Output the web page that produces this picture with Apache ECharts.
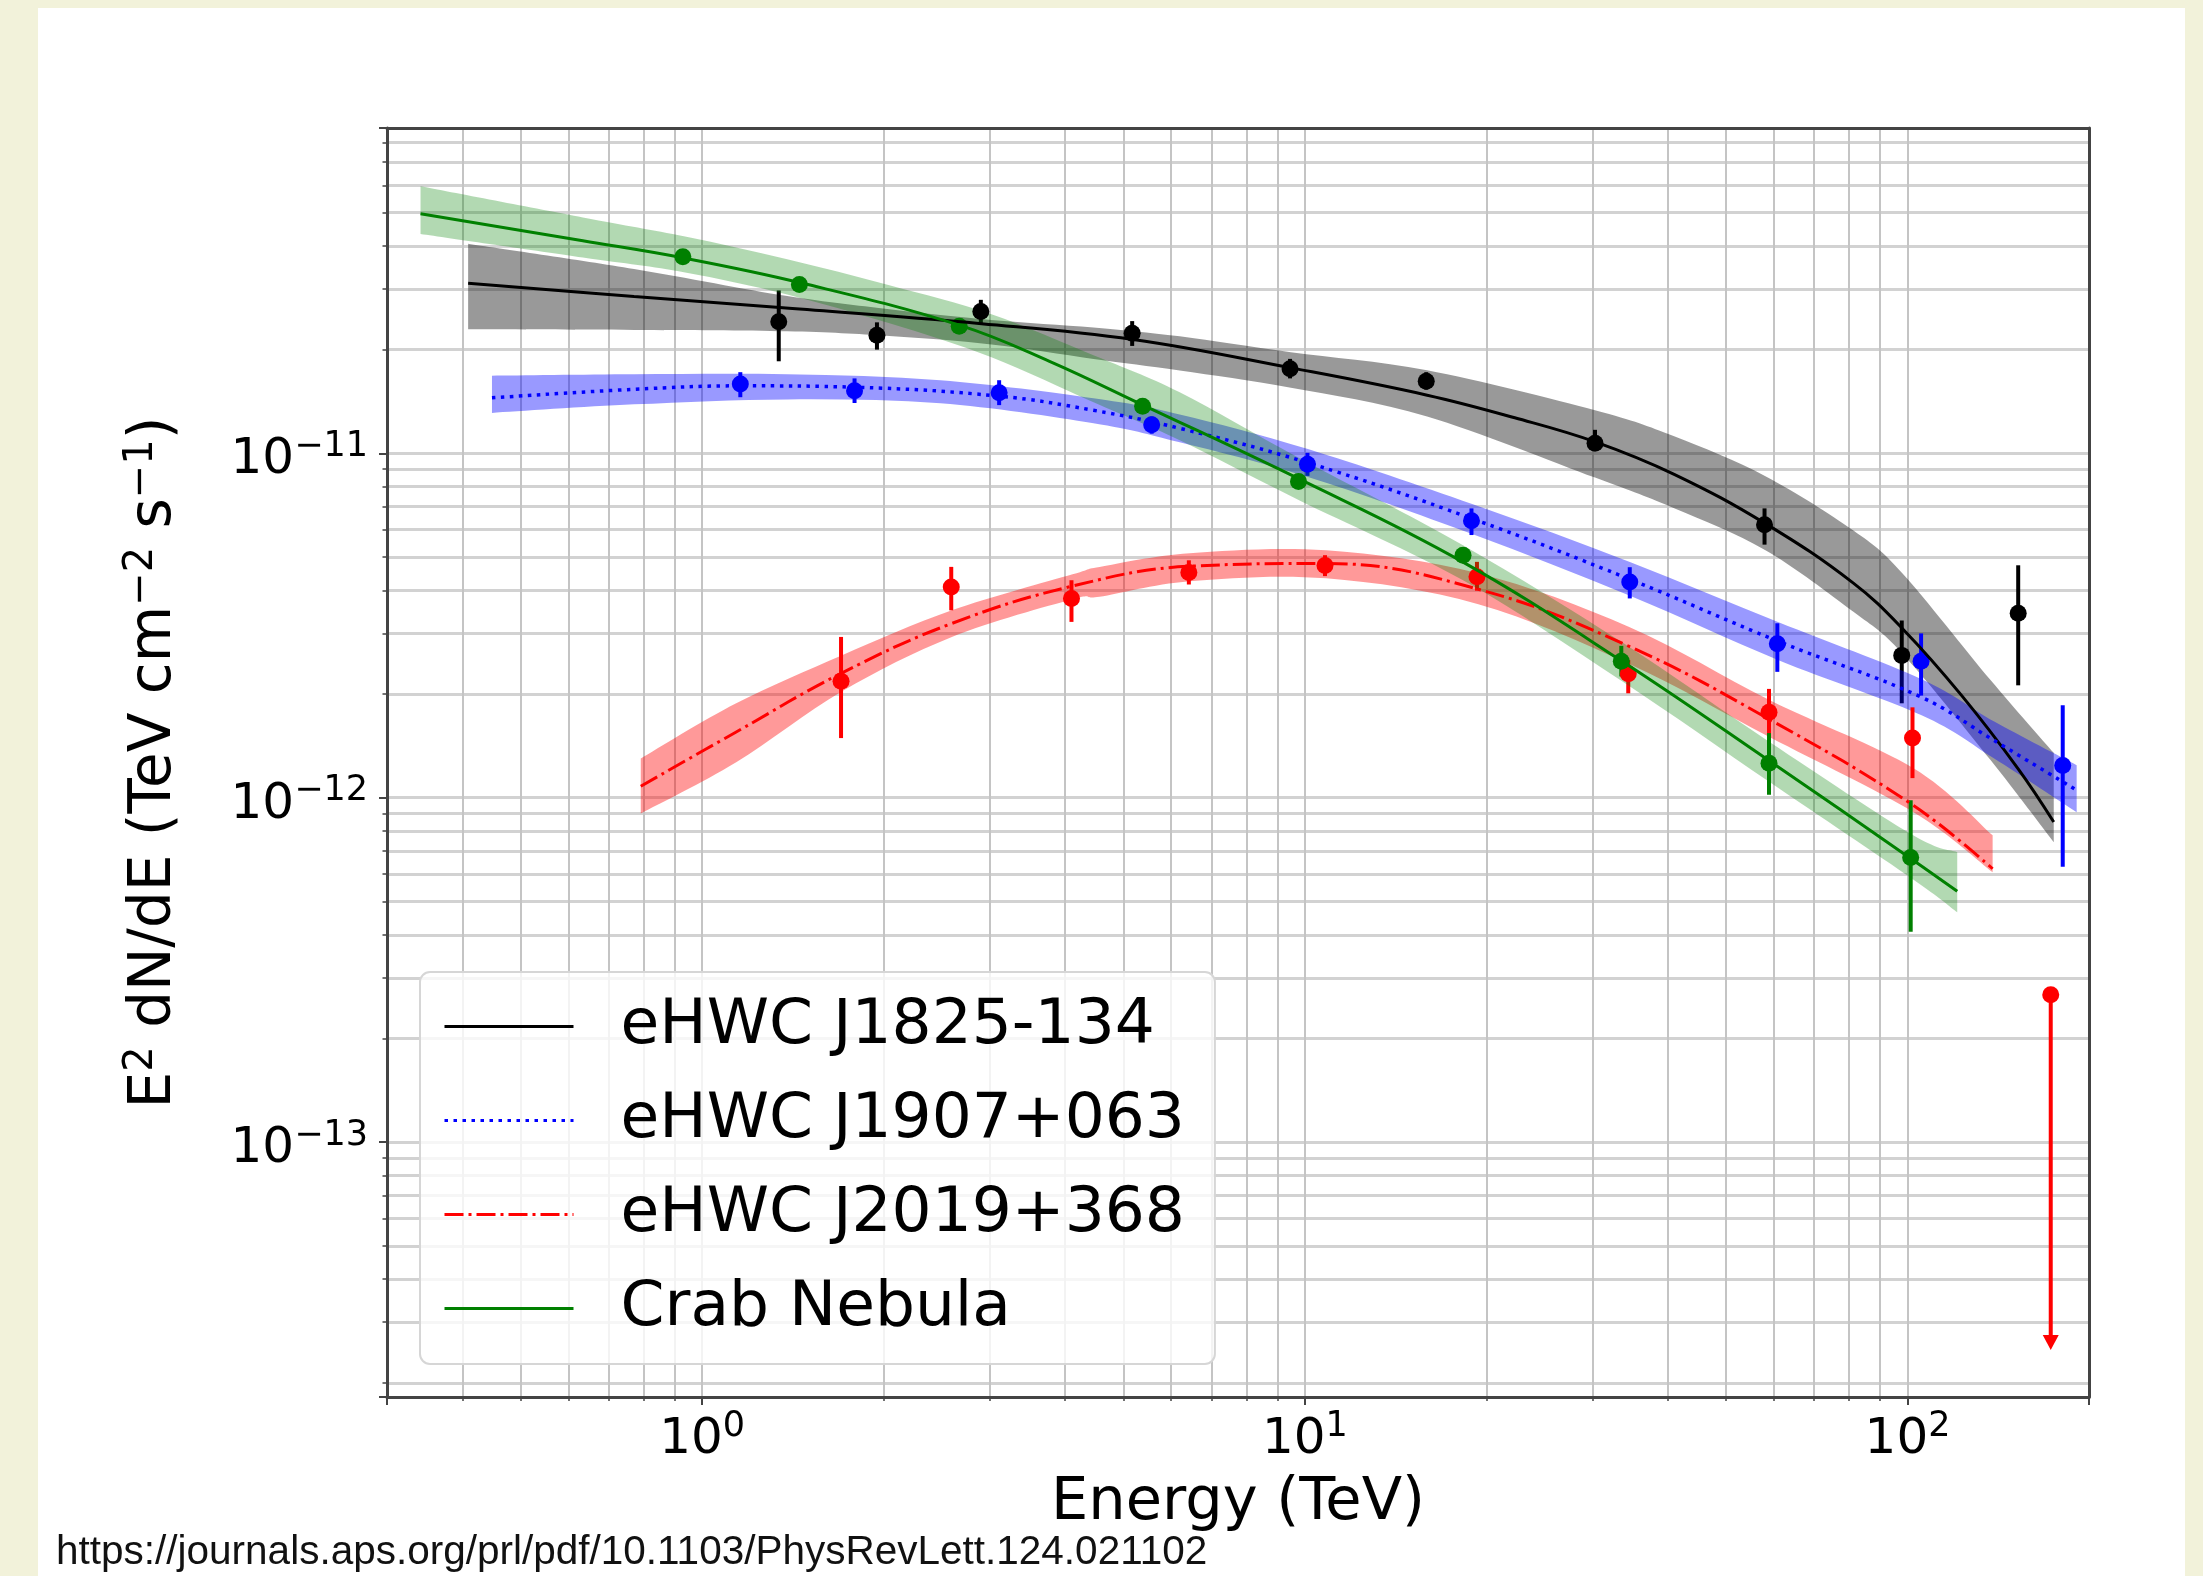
<!DOCTYPE html>
<html>
<head>
<meta charset="utf-8">
<title>eHWC spectra</title>
<script src="https://cdn.jsdelivr.net/npm/echarts@6/dist/echarts.min.js"></script>
<style>
  html, body { margin: 0; padding: 0; background: #f2f2da; }
  #sheet { position: absolute; left: 38px; top: 8px; width: 2147px; height: 1568px; background: #ffffff; }
  #main { position: absolute; left: 0; top: 0; width: 2203px; height: 1576px; }
</style>
</head>
<body>
<div id="sheet"></div>
<div id="main"></div>
<script>
// energy in TeV, E^2 dN/dE in TeV cm^-2 s^-1
var xMin = 0.3, xMax = 200;
var yMin = 1.82e-14, yMax = 8.8e-11;

// eHWC J1825-134 (black)
var j1825FitE = [0.409, 0.771, 1.345, 2.908, 5.19, 9.49, 15.96, 22.3, 30.4, 41.0, 58.1, 81.2, 98.1, 122.9, 152.9, 174.8];
var j1825FitF = [3.115e-11, 2.851e-11, 2.650e-11, 2.379e-11, 2.140e-11, 1.770e-11, 1.475e-11, 1.268e-11, 1.078e-11, 8.69e-12, 6.25e-12, 4.205e-12, 3.095e-12, 1.982e-12, 1.207e-12, 8.50e-13];
var j1825BandE = [0.409, 0.771, 1.384, 2.045, 3.02, 4.46, 6.20, 9.48, 15.95, 30.3, 41.0, 58.1, 81.2, 98.1, 137.4, 174.8];
var j1825BandLo = [2.29e-11, 2.28e-11, 2.26e-11, 2.19e-11, 2.07e-11, 1.88e-11, 1.74e-11, 1.55e-11, 1.28e-11, 8.50e-12, 6.92e-12, 5.23e-12, 3.47e-12, 2.62e-12, 1.285e-12, 7.43e-13];
var j1825BandHi = [4.06e-11, 3.43e-11, 2.86e-11, 2.62e-11, 2.44e-11, 2.32e-11, 2.186e-11, 1.964e-11, 1.741e-11, 1.333e-11, 1.12e-11, 8.58e-12, 5.976e-12, 4.48e-12, 2.194e-12, 1.35e-12];
var j1825E = [1.34, 1.95, 2.90, 5.17, 9.45, 15.9, 30.3, 57.9, 97.8, 152.6];
var j1825F = [2.41e-11, 2.20e-11, 2.58e-11, 2.23e-11, 1.76e-11, 1.62e-11, 1.07e-11, 6.20e-12, 2.59e-12, 3.43e-12];
var j1825Lo = [1.85e-11, 2.00e-11, 2.37e-11, 2.05e-11, 1.65e-11, 1.53e-11, 1.02e-11, 5.43e-12, 1.88e-12, 2.12e-12];
var j1825Hi = [2.97e-11, 2.40e-11, 2.79e-11, 2.42e-11, 1.88e-11, 1.72e-11, 1.17e-11, 6.92e-12, 3.27e-12, 4.73e-12];

// eHWC J1907+063 (blue)
var j1907FitE = [0.448, 0.771, 1.161, 1.80, 3.126, 4.46, 6.20, 10.15, 19.0, 34.7, 61.1, 105.5, 139.0, 190.8];
var j1907FitF = [1.449e-11, 1.534e-11, 1.570e-11, 1.555e-11, 1.464e-11, 1.333e-11, 1.182e-11, 9.37e-12, 6.45e-12, 4.30e-12, 2.842e-12, 1.957e-12, 1.468e-12, 1.051e-12];
var j1907BandE = [0.448, 0.771, 1.384, 2.485, 4.46, 6.20, 10.15, 19.0, 34.7, 61.1, 105.5, 139.0, 190.8];
var j1907BandLo = [1.31e-11, 1.387e-11, 1.434e-11, 1.397e-11, 1.222e-11, 1.076e-11, 8.52e-12, 5.82e-12, 3.85e-12, 2.507e-12, 1.735e-12, 1.302e-12, 9.08e-13];
var j1907BandHi = [1.68e-11, 1.696e-11, 1.696e-11, 1.63e-11, 1.445e-11, 1.297e-11, 1.027e-11, 7.11e-12, 4.83e-12, 3.23e-12, 2.208e-12, 1.667e-12, 1.243e-12];
var j1907E = [1.157, 1.79, 3.11, 5.57, 10.1, 18.9, 34.6, 60.8, 105.3, 180.9];
var j1907F = [1.59e-11, 1.52e-11, 1.50e-11, 1.21e-11, 9.29e-12, 6.37e-12, 4.23e-12, 2.80e-12, 2.49e-12, 1.24e-12];
var j1907Lo = [1.455e-11, 1.40e-11, 1.38e-11, 1.14e-11, 8.60e-12, 5.79e-12, 3.79e-12, 2.32e-12, 1.98e-12, 6.30e-13];
var j1907Hi = [1.72e-11, 1.65e-11, 1.63e-11, 1.28e-11, 1.003e-11, 6.92e-12, 4.67e-12, 3.21e-12, 3.00e-12, 1.855e-12];

// eHWC J2019+368 (red)
var j2019FitE = [0.791, 1.139, 1.707, 2.596, 4.117, 6.44, 10.85, 19.4, 34.6, 59.1, 102.3, 138.4];
var j2019FitF = [1.08e-12, 1.552e-12, 2.305e-12, 3.206e-12, 4.117e-12, 4.70e-12, 4.787e-12, 4.03e-12, 2.746e-12, 1.685e-12, 9.49e-13, 6.22e-13];
var j2019BandE = [0.791, 1.139, 1.707, 2.596, 4.117, 4.565, 6.44, 10.85, 19.4, 34.6, 59.1, 102.3, 138.4];
var j2019BandLo = [9.0e-13, 1.268e-12, 2.038e-12, 2.93e-12, 3.77e-12, 3.83e-12, 4.25e-12, 4.335e-12, 3.645e-12, 2.44e-12, 1.498e-12, 9.08e-13, 6.08e-13];
var j2019BandHi = [1.30e-12, 1.88e-12, 2.593e-12, 3.50e-12, 4.454e-12, 4.68e-12, 5.13e-12, 5.23e-12, 4.484e-12, 3.126e-12, 1.919e-12, 1.218e-12, 7.78e-13];
var j2019E = [1.70, 2.59, 4.10, 6.42, 10.8, 19.3, 34.4, 58.9, 101.9];
var j2019F = [2.18e-12, 4.09e-12, 3.79e-12, 4.51e-12, 4.72e-12, 4.38e-12, 2.29e-12, 1.77e-12, 1.49e-12];
var j2019Lo = [1.49e-12, 3.50e-12, 3.24e-12, 4.16e-12, 4.40e-12, 3.99e-12, 2.01e-12, 1.45e-12, 1.14e-12];
var j2019Hi = [2.93e-12, 4.68e-12, 4.28e-12, 4.89e-12, 5.06e-12, 4.84e-12, 2.51e-12, 2.07e-12, 1.83e-12];
// upper limit in the last bin: [energy, flux, arrow end]
var j2019UL = [172.8, 2.68e-13, 2.49e-14];

// Crab Nebula (green)
var crabFitE = [0.341, 0.634, 0.932, 1.457, 2.679, 3.77, 5.40, 9.80, 18.3, 33.6, 59.1, 101.6, 120.9];
var crabFitF = [4.96e-11, 4.14e-11, 3.69e-11, 3.126e-11, 2.352e-11, 1.850e-11, 1.378e-11, 8.41e-12, 4.83e-12, 2.49e-12, 1.276e-12, 6.63e-13, 5.35e-13];
var crabBandE = [0.341, 0.634, 0.937, 1.384, 2.045, 3.02, 4.46, 6.20, 9.80, 18.3, 33.6, 59.1, 101.5, 120.9];
var crabBandLo = [4.33e-11, 3.70e-11, 3.352e-11, 2.893e-11, 2.384e-11, 1.90e-11, 1.406e-11, 1.091e-11, 7.30e-12, 4.28e-12, 2.18e-12, 1.109e-12, 5.84e-13, 4.65e-13];
var crabBandHi = [5.96e-11, 4.84e-11, 4.26e-11, 3.657e-11, 3.074e-11, 2.533e-11, 1.926e-11, 1.504e-11, 9.67e-12, 5.41e-12, 2.827e-12, 1.449e-12, 7.83e-13, 6.95e-13];
var crabE = [0.929, 1.45, 2.67, 5.38, 9.76, 18.3, 33.5, 58.9, 101.2];
var crabF = [3.72e-11, 3.09e-11, 2.34e-11, 1.37e-11, 8.28e-12, 5.06e-12, 2.49e-12, 1.26e-12, 6.71e-13];
var crabLo = [3.62e-11, 3.01e-11, 2.27e-11, 1.33e-11, 8.00e-12, 4.85e-12, 2.25e-12, 1.02e-12, 4.08e-13];
var crabHi = [3.82e-11, 3.17e-11, 2.41e-11, 1.41e-11, 8.56e-12, 5.28e-12, 2.76e-12, 1.54e-12, 9.83e-13];

var legendNames = ['eHWC J1825-134', 'eHWC J1907+063', 'eHWC J2019+368', 'Crab Nebula'];

var FONT = 'DejaVu Sans';
var myChart = echarts.init(document.getElementById('main'));

function zip(a, b, c) {
  return a.map(function (v, i) { return c ? [v, b[i], c[i]] : [v, b[i]]; });
}

// bezier segments through pixel points (catmull-rom), for the band edges
function curveThrough(pts) {
  var s = '';
  for (var i = 0; i < pts.length - 1; i++) {
    var p0 = pts[i - 1] || pts[i], p1 = pts[i], p2 = pts[i + 1], p3 = pts[i + 2] || pts[i + 1];
    s += ' C' + (p1[0] + (p2[0] - p0[0]) / 6) + ' ' + (p1[1] + (p2[1] - p0[1]) / 6) +
         ' ' + (p2[0] - (p3[0] - p1[0]) / 6) + ' ' + (p2[1] - (p3[1] - p1[1]) / 6) +
         ' ' + p2[0] + ' ' + p2[1];
  }
  return s;
}

// fill_between style band
function bandSeries(id, E, lo, hi, fill) {
  return {
    type: 'custom', id: id, name: id, data: zip(E, lo, hi),
    encode: { x: 0, y: [1, 2] },
    renderItem: function (params, api) {
      if (params.dataIndex !== 0) return null;
      var up = [], down = [];
      for (var i = 0; i < E.length; i++) up.push(api.coord([E[i], hi[i]]));
      for (var j = E.length - 1; j >= 0; j--) down.push(api.coord([E[j], lo[j]]));
      var d = 'M' + up[0][0] + ' ' + up[0][1] + curveThrough(up) +
              ' L' + down[0][0] + ' ' + down[0][1] + curveThrough(down) + ' Z';
      return { type: 'path', shape: { pathData: d }, style: { fill: fill } };
    }
  };
}

function fitSeries(name, E, F, color, width, dash) {
  return {
    type: 'line', name: name, data: zip(E, F), symbol: 'none',
    smooth: 0.4,
    lineStyle: { color: color, width: width, type: dash, cap: 'butt' },
    itemStyle: { color: color }
  };
}

function errSeries(id, E, lo, hi, color) {
  return {
    type: 'custom', id: id, name: id, data: zip(E, lo, hi),
    encode: { x: 0, y: [1, 2] },
    renderItem: function (params, api) {
      var a = api.coord([api.value(0), api.value(1)]);
      var b = api.coord([api.value(0), api.value(2)]);
      return { type: 'line', shape: { x1: a[0], y1: a[1], x2: b[0], y2: b[1] },
               style: { stroke: color, lineWidth: 4 } };
    }
  };
}

function pointSeries(id, E, F, color) {
  return {
    type: 'scatter', id: id, name: id, data: zip(E, F),
    symbol: 'circle', symbolSize: 17, itemStyle: { color: color, opacity: 1 }
  };
}

function supLabel(v) {
  var p = Math.log10(v), k = Math.round(p);
  if (Math.abs(p - k) > 1e-6) return '';
  return '{b|10}{s|' + String(k).replace('-', '\u2212') + '}';
}

var tickRich = {
  b: { fontSize: 50, lineHeight: 50, fontFamily: FONT, color: '#000', verticalAlign: 'bottom' },
  s: { fontSize: 35, lineHeight: 35, fontFamily: FONT, color: '#000', verticalAlign: 'bottom', padding: [0, 0, 21, 0] }
};

var frame = { show: true, onZero: false, lineStyle: { color: '#444', width: 3 } };
var hGrid = { color: '#d2d2d2', width: 3 };
var vGrid = { color: '#c4c4c4', width: 2 };

var option = {
  animation: false,
  backgroundColor: 'transparent',
  grid: { left: 387, right: 114, top: 128, bottom: 179, outerBoundsMode: 'none' },
  legend: {
    data: legendNames, orient: 'vertical', left: 420, top: 972, z: 10,
    itemWidth: 129, itemHeight: 4, itemGap: 31,
    padding: [23, 30, 24, 23],
    backgroundColor: 'rgba(255,255,255,0.8)', borderColor: '#d6d6d6', borderWidth: 2, borderRadius: 10,
    itemStyle: { opacity: 0 },
    lineStyle: { width: 3 },
    formatter: function (name) { return '{g| }' + name; },
    textStyle: { fontFamily: FONT, fontSize: 63, color: '#000', rich: { g: { width: 42, fontSize: 63 } } }
  },
  xAxis: [{
    type: 'log', logBase: 10, min: xMin, max: xMax, position: 'bottom',
    name: 'Energy (TeV)', nameLocation: 'middle', nameGap: 77,
    nameTextStyle: { fontFamily: FONT, fontSize: 59, color: '#000' },
    axisLine: frame,
    axisTick: { show: true, length: 8, lineStyle: { color: '#444', width: 2 } },
    minorTick: { show: true, splitNumber: 9, length: 4, lineStyle: { color: '#444', width: 1.5 } },
    axisLabel: { formatter: supLabel, rich: tickRich, margin: 18 },
    splitLine: { show: true, showMinLine: false, showMaxLine: false, lineStyle: vGrid },
    minorSplitLine: { show: true, lineStyle: vGrid }
  }, {
    type: 'log', logBase: 10, min: xMin, max: xMax, position: 'top',
    axisLine: frame, axisTick: { show: false }, axisLabel: { show: false }, splitLine: { show: false }
  }],
  yAxis: [{
    type: 'log', logBase: 10, min: yMin, max: yMax, position: 'left',
    name: '{n|E}{p|2}{n| dN/dE (TeV cm}{p|\u22122}{n| s}{p|\u22121}{n|)}',
    nameLocation: 'middle', nameGap: 203,
    nameTextStyle: {
      fontFamily: FONT, fontSize: 58, color: '#000',
      rich: {
        n: { fontFamily: FONT, fontSize: 58, lineHeight: 58, color: '#000', verticalAlign: 'bottom' },
        p: { fontFamily: FONT, fontSize: 40, lineHeight: 40, color: '#000', verticalAlign: 'bottom', padding: [0, 0, 22, 0] }
      }
    },
    axisLine: frame,
    axisTick: { show: true, length: 8, lineStyle: { color: '#444', width: 2 } },
    minorTick: { show: true, splitNumber: 9, length: 4.5, lineStyle: { color: '#444', width: 1.5 } },
    axisLabel: { formatter: supLabel, rich: tickRich, margin: 19, padding: [14, 0, 0, 0] },
    splitLine: { show: true, showMinLine: false, showMaxLine: false, lineStyle: hGrid },
    minorSplitLine: { show: true, lineStyle: hGrid }
  }, {
    type: 'log', logBase: 10, min: yMin, max: yMax, position: 'right',
    axisLine: frame, axisTick: { show: false }, axisLabel: { show: false }, splitLine: { show: false }
  }],
  graphic: [{
    type: 'text', x: 56, y: 1553, z: 10,
    style: {
      text: 'https://journals.aps.org/prl/pdf/10.1103/PhysRevLett.124.021102',
      fontFamily: 'Liberation Sans', fontSize: 40.5, fill: '#111', verticalAlign: 'middle'
    }
  }],
  series: [
    bandSeries('j1825-band', j1825BandE, j1825BandLo, j1825BandHi, 'rgba(0,0,0,0.4)'),
    fitSeries(legendNames[0], j1825FitE, j1825FitF, '#000000', 3, 'solid'),
    errSeries('j1825-err', j1825E, j1825Lo, j1825Hi, '#000000'),
    pointSeries('j1825-pts', j1825E, j1825F, '#000000'),

    bandSeries('j1907-band', j1907BandE, j1907BandLo, j1907BandHi, 'rgba(0,0,255,0.4)'),
    fitSeries(legendNames[1], j1907FitE, j1907FitF, '#0000ff', 3.5, [3.5, 5.5]),
    errSeries('j1907-err', j1907E, j1907Lo, j1907Hi, '#0000ff'),
    pointSeries('j1907-pts', j1907E, j1907F, '#0000ff'),

    bandSeries('j2019-band', j2019BandE, j2019BandLo, j2019BandHi, 'rgba(255,0,0,0.4)'),
    fitSeries(legendNames[2], j2019FitE, j2019FitF, '#ff0000', 3, [19, 5, 3, 5]),
    errSeries('j2019-err', j2019E, j2019Lo, j2019Hi, '#ff0000'),
    pointSeries('j2019-pts', j2019E, j2019F, '#ff0000'),
    {
      // upper limit: marker, stem and arrow head
      type: 'custom', id: 'j2019-ul', name: 'j2019-ul', data: [j2019UL],
      encode: { x: 0, y: [1, 2] },
      renderItem: function (params, api) {
        var top = api.coord([api.value(0), api.value(1)]);
        var tip = api.coord([api.value(0), api.value(2)]);
        return {
          type: 'group', children: [
            { type: 'line', shape: { x1: top[0], y1: top[1], x2: tip[0], y2: tip[1] - 12 },
              style: { stroke: '#ff0000', lineWidth: 4 } },
            { type: 'polygon', shape: { points: [[tip[0] - 8, tip[1] - 15], [tip[0] + 8, tip[1] - 15], [tip[0], tip[1]]] },
              style: { fill: '#ff0000' } },
            { type: 'circle', shape: { cx: top[0], cy: top[1], r: 8.5 }, style: { fill: '#ff0000' } }
          ]
        };
      }
    },

    bandSeries('crab-band', crabBandE, crabBandLo, crabBandHi, 'rgba(0,128,0,0.3)'),
    fitSeries(legendNames[3], crabFitE, crabFitF, '#008000', 3, 'solid'),
    errSeries('crab-err', crabE, crabLo, crabHi, '#008000'),
    pointSeries('crab-pts', crabE, crabF, '#008000')
  ]
};

myChart.setOption(option);
</script>
</body>
</html>
